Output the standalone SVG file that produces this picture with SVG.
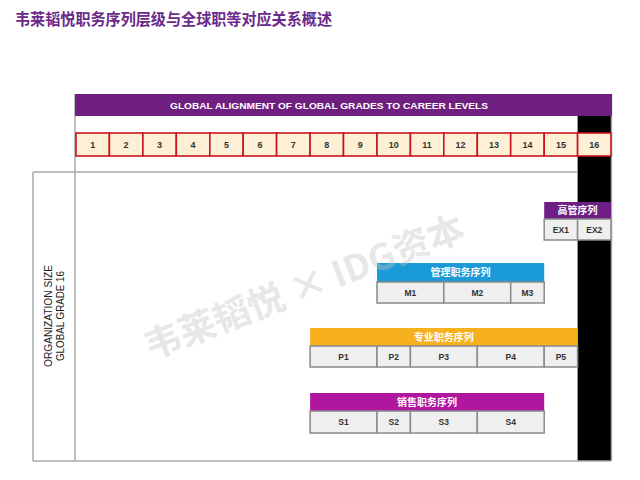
<svg xmlns="http://www.w3.org/2000/svg" width="640" height="480" viewBox="0 0 640 480">
<style>
.title{font-family:"Noto Sans CJK SC","Noto Sans",sans-serif;font-weight:bold;font-size:16px;fill:#6a2a8a}
.hdr{font-family:"Liberation Sans",Arial,sans-serif;font-weight:bold;font-size:9.5px;fill:#ffffff}
.grade{fill:#fdf0d6;stroke:#c8151d;stroke-width:1.6}
.gtxt{font-family:"Liberation Sans",Arial,sans-serif;font-weight:bold;font-size:9px;fill:#333333;text-anchor:middle}
.line{stroke:#a8a8a8;stroke-width:1.5;fill:none}
.cell{fill:#efefef;stroke:#8a8a8a;stroke-width:1.5}
.ctxt{font-family:"Liberation Sans",Arial,sans-serif;font-weight:bold;font-size:8.5px;fill:#333333;text-anchor:middle}
.htxt{font-family:"Noto Sans CJK SC",sans-serif;font-weight:bold;font-size:10px;fill:#ffffff;text-anchor:middle}
.side{font-family:"Liberation Sans",Arial,sans-serif;font-size:10px;fill:#1a1a1a;text-anchor:middle}
.wm{font-family:"Noto Sans CJK SC","Liberation Sans",sans-serif;font-weight:bold;font-size:36px;fill:#c4c4c4;opacity:0.4}
</style>
<rect width="640" height="480" fill="#ffffff"/>
<text class="title" x="15" y="25" textLength="317" lengthAdjust="spacingAndGlyphs">韦莱韬悦职务序列层级与全球职等对应关系概述</text>

<g id="frame">
  <rect x="577.6" y="116" width="33.4" height="345" fill="#000000"/>
  <line class="line" x1="33" y1="172" x2="577.6" y2="172"/>
  <line class="line" x1="33" y1="172" x2="33" y2="461"/>
  <line class="line" x1="75" y1="94" x2="75" y2="461"/>
  <line class="line" x1="33" y1="461" x2="611" y2="461"/>
  <line class="line" x1="611.5" y1="94" x2="611.5" y2="461"/>
</g>

<g id="header">
  <rect x="75" y="94" width="537" height="22" fill="#6e1f80"/>
  <text class="hdr" x="329" y="108.5" text-anchor="middle" textLength="318" lengthAdjust="spacingAndGlyphs">GLOBAL ALIGNMENT OF GLOBAL GRADES TO CAREER LEVELS</text>
</g>

<g id="grades">
  <rect class="grade" x="76.0" y="133" width="33.4" height="23"/>
  <rect class="grade" x="109.4" y="133" width="33.5" height="23"/>
  <rect class="grade" x="142.9" y="133" width="33.4" height="23"/>
  <rect class="grade" x="176.3" y="133" width="33.5" height="23"/>
  <rect class="grade" x="209.8" y="133" width="33.4" height="23"/>
  <rect class="grade" x="243.2" y="133" width="33.4" height="23"/>
  <rect class="grade" x="276.6" y="133" width="33.5" height="23"/>
  <rect class="grade" x="310.1" y="133" width="33.4" height="23"/>
  <rect class="grade" x="343.5" y="133" width="33.5" height="23"/>
  <rect class="grade" x="377.0" y="133" width="33.4" height="23"/>
  <rect class="grade" x="410.4" y="133" width="33.4" height="23"/>
  <rect class="grade" x="443.8" y="133" width="33.5" height="23"/>
  <rect class="grade" x="477.3" y="133" width="33.4" height="23"/>
  <rect class="grade" x="510.7" y="133" width="33.5" height="23"/>
  <rect class="grade" x="544.2" y="133" width="33.4" height="23"/>
  <rect class="grade" x="577.6" y="133" width="33.4" height="23"/>
  <text class="gtxt" x="92.7" y="148">1</text>
  <text class="gtxt" x="126.1" y="148">2</text>
  <text class="gtxt" x="159.6" y="148">3</text>
  <text class="gtxt" x="193.0" y="148">4</text>
  <text class="gtxt" x="226.5" y="148">5</text>
  <text class="gtxt" x="259.9" y="148">6</text>
  <text class="gtxt" x="293.3" y="148">7</text>
  <text class="gtxt" x="326.8" y="148">8</text>
  <text class="gtxt" x="360.2" y="148">9</text>
  <text class="gtxt" x="393.7" y="148">10</text>
  <text class="gtxt" x="427.1" y="148">11</text>
  <text class="gtxt" x="460.5" y="148">12</text>
  <text class="gtxt" x="494.0" y="148">13</text>
  <text class="gtxt" x="527.4" y="148">14</text>
  <text class="gtxt" x="560.9" y="148">15</text>
  <text class="gtxt" x="594.3" y="148">16</text>
</g>

<g id="org-size">
  <text class="side" transform="translate(52,316) rotate(-90)" textLength="102" lengthAdjust="spacingAndGlyphs">ORGANIZATION  SIZE</text>
  <text class="side" transform="translate(64,316) rotate(-90)" textLength="90" lengthAdjust="spacingAndGlyphs">GLOBAL  GRADE 16</text>
</g>

<g id="exec">
  <rect x="544.2" y="202" width="66.8" height="17" fill="#6e1f86"/>
  <text class="htxt" x="577.6" y="214">高管序列</text>
  <rect class="cell" x="544.2" y="219" width="33.4" height="21"/>
  <rect class="cell" x="577.6" y="219" width="33.4" height="21"/>
  <text class="ctxt" x="560.9" y="233">EX1</text>
  <text class="ctxt" x="594.3" y="233">EX2</text>
</g>

<g id="mgmt">
  <rect x="377" y="263" width="167.2" height="19" fill="#1a9ad6"/>
  <text class="htxt" x="460.6" y="276">管理职务序列</text>
  <rect class="cell" x="377" y="282" width="66.8" height="21"/>
  <rect class="cell" x="443.8" y="282" width="66.9" height="21"/>
  <rect class="cell" x="510.7" y="282" width="33.5" height="21"/>
  <text class="ctxt" x="410.4" y="296">M1</text>
  <text class="ctxt" x="477.3" y="296">M2</text>
  <text class="ctxt" x="527.4" y="296">M3</text>
</g>

<g id="prof">
  <rect x="310.1" y="328" width="267.5" height="18" fill="#f7b11e"/>
  <text class="htxt" x="443.8" y="341">专业职务序列</text>
  <rect class="cell" x="310.1" y="346" width="66.9" height="21"/>
  <rect class="cell" x="377" y="346" width="33.4" height="21"/>
  <rect class="cell" x="410.4" y="346" width="66.9" height="21"/>
  <rect class="cell" x="477.3" y="346" width="66.9" height="21"/>
  <rect class="cell" x="544.2" y="346" width="33.4" height="21"/>
  <text class="ctxt" x="343.5" y="360">P1</text>
  <text class="ctxt" x="393.7" y="360">P2</text>
  <text class="ctxt" x="443.8" y="360">P3</text>
  <text class="ctxt" x="510.7" y="360">P4</text>
  <text class="ctxt" x="560.9" y="360">P5</text>
</g>

<g id="sales">
  <rect x="310.1" y="393" width="234.1" height="18" fill="#b0169e"/>
  <text class="htxt" x="427.1" y="406">销售职务序列</text>
  <rect class="cell" x="310.1" y="411" width="66.9" height="22"/>
  <rect class="cell" x="377" y="411" width="33.4" height="22"/>
  <rect class="cell" x="410.4" y="411" width="66.9" height="22"/>
  <rect class="cell" x="477.3" y="411" width="66.9" height="22"/>
  <text class="ctxt" x="343.5" y="425">S1</text>
  <text class="ctxt" x="393.7" y="425">S2</text>
  <text class="ctxt" x="443.8" y="425">S3</text>
  <text class="ctxt" x="510.7" y="425">S4</text>
</g>

<g id="connectors"></g>

<text class="wm" transform="translate(150,360) rotate(-21)" textLength="340" lengthAdjust="spacingAndGlyphs">韦莱韬悦 × IDG资本</text>
</svg>
